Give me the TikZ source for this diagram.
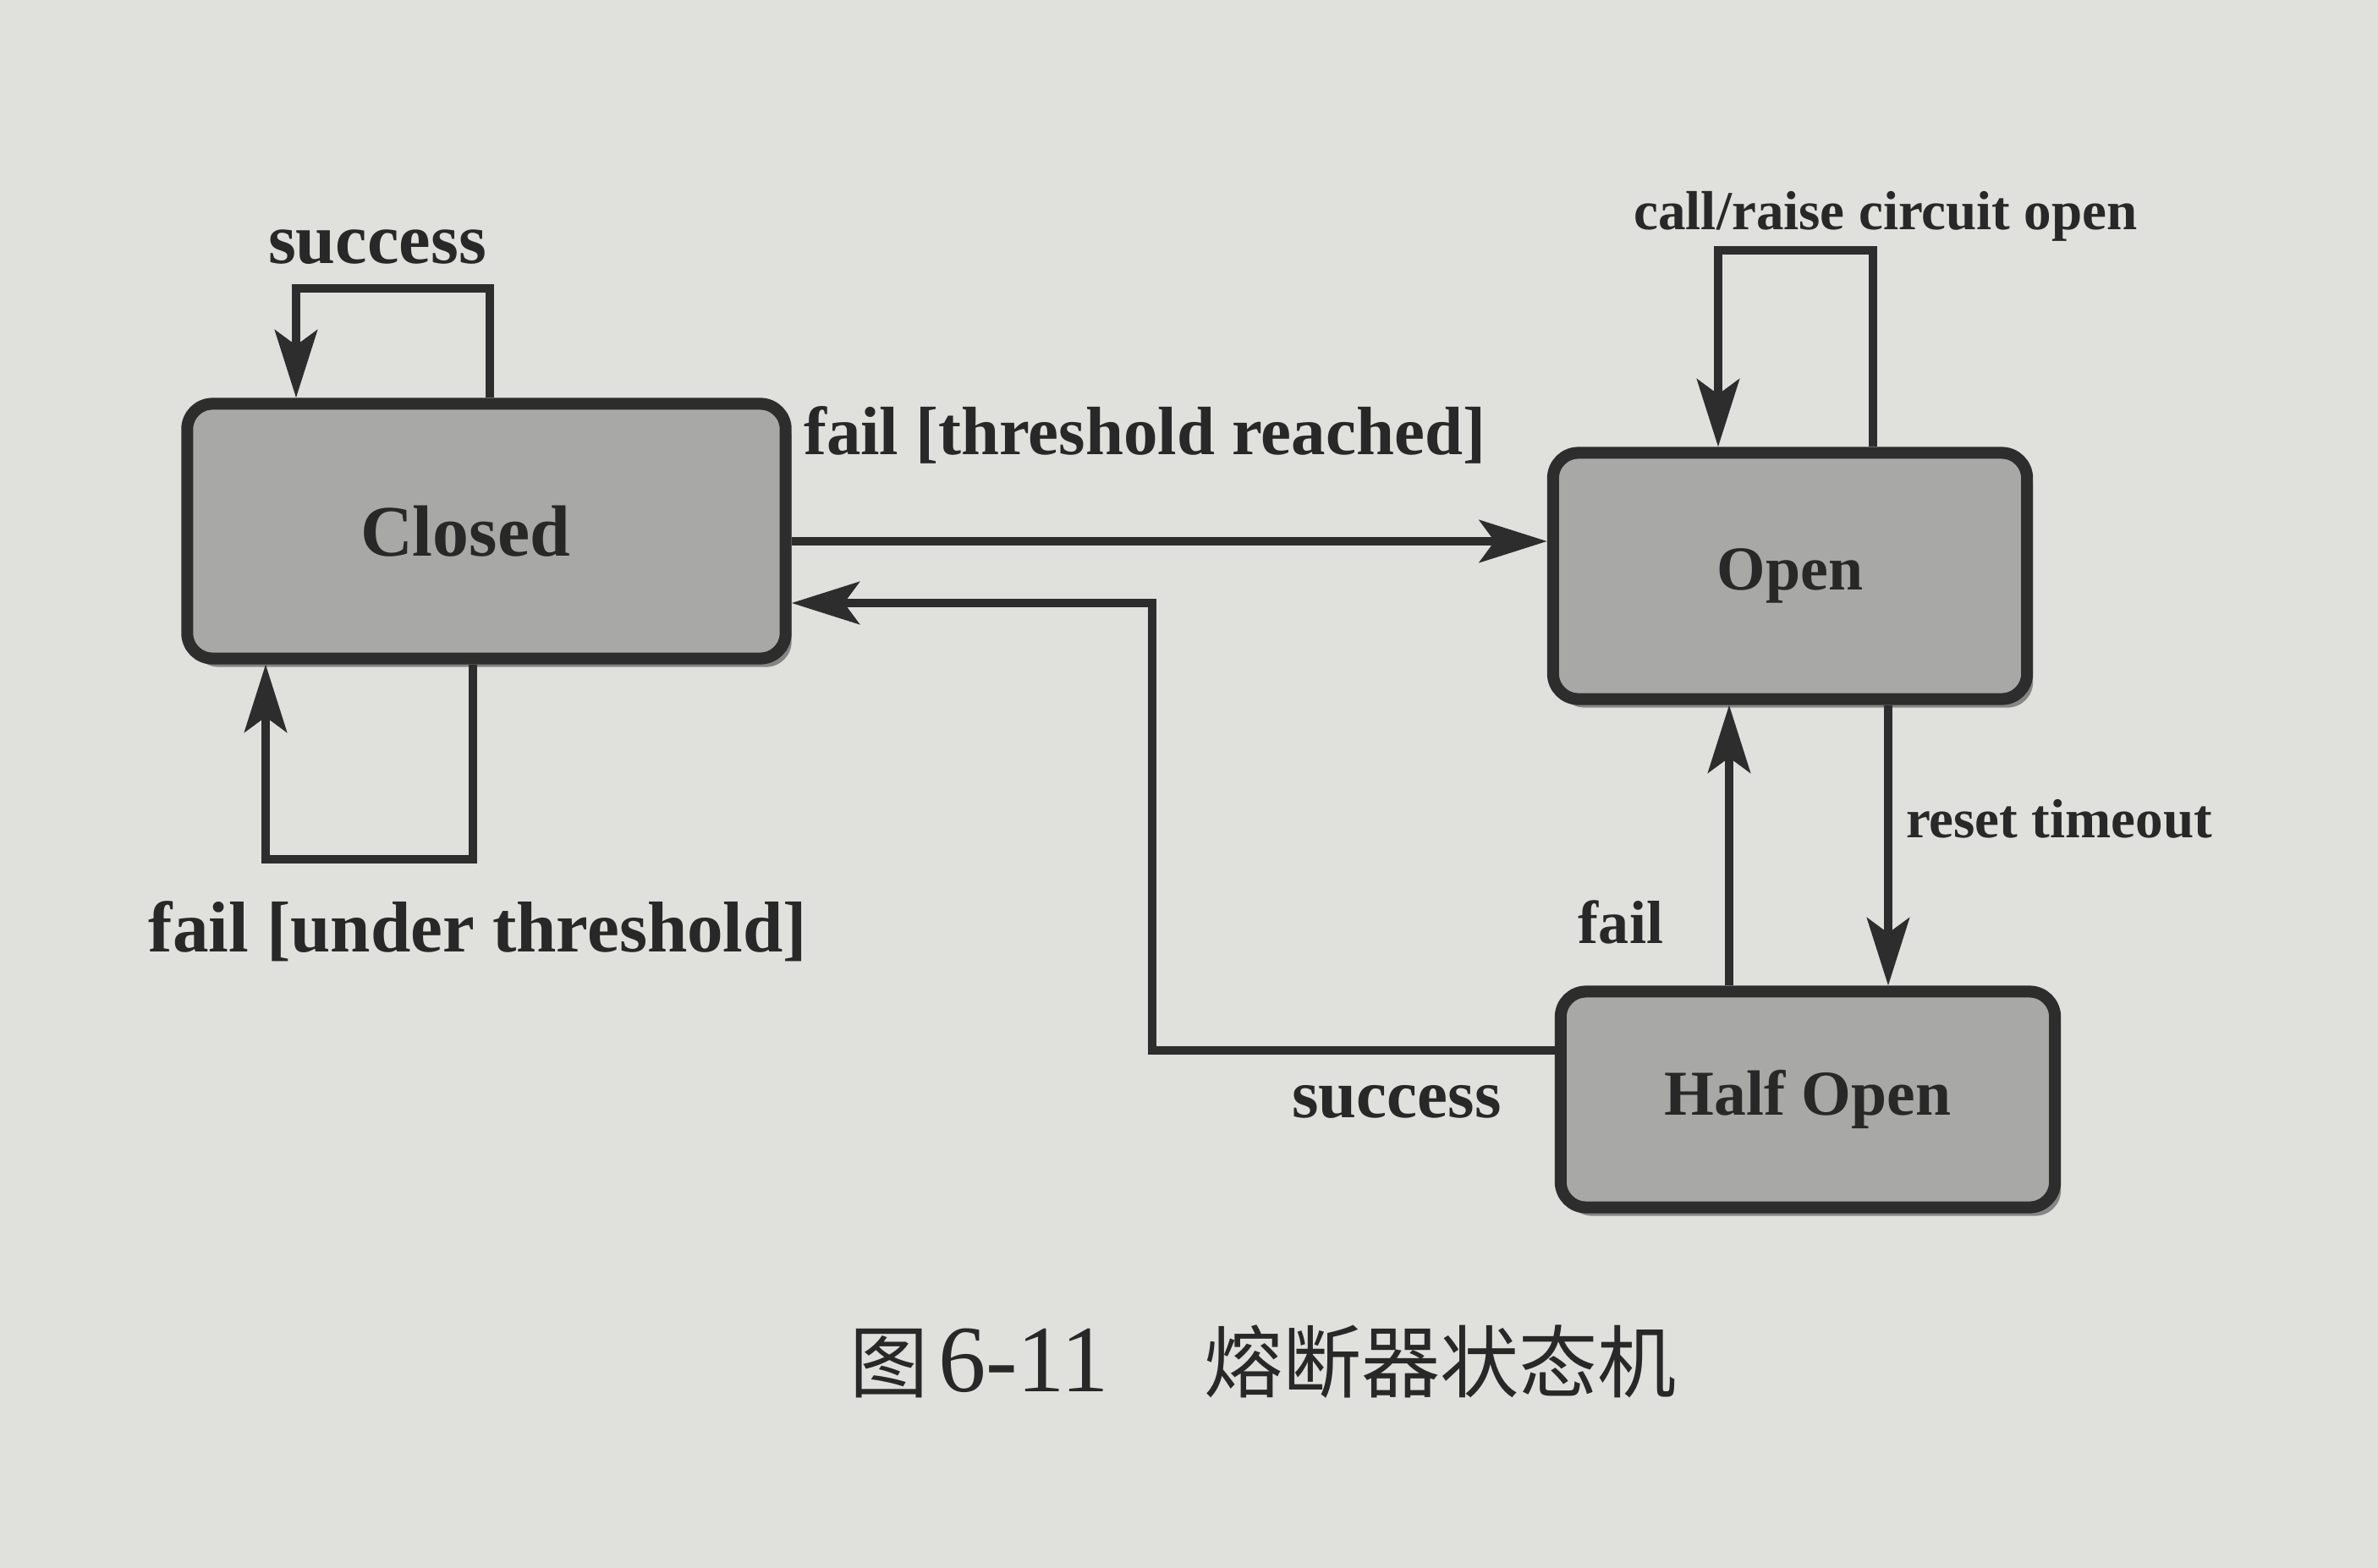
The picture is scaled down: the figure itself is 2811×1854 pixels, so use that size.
\documentclass[tikz,border=0pt]{standalone}
\usepackage{fontspec}
\setmainfont{Liberation Serif}
\newfontfamily\cjk{Noto Sans CJK SC}
\usetikzlibrary{arrows.meta,shadows}
\definecolor{paper}{RGB}{224,224,221}
\definecolor{boxfill}{RGB}{168,168,166}
\definecolor{linec}{RGB}{45,45,45}
\definecolor{textc}{RGB}{40,40,40}
\begin{document}
\begin{tikzpicture}[x=0.01cm,y=-0.01cm,
  state/.style={draw=linec, line width=4pt, fill=boxfill, rounded corners=0.3cm,
    inner sep=0pt, text=textc,
    drop shadow={shadow xshift=0.07cm, shadow yshift=-0.1cm, fill=black, opacity=0.4}},
  conn/.style={draw=linec, line width=2.8pt,
    -{Stealth[length=0.8cm,width=0.5cm,inset=0.18cm]}},
  lbl/.style={text=textc, inner sep=0pt}]
\fill[paper] (0,0) rectangle (2811,1854);
\useasboundingbox (0,0) rectangle (2811,1854);

% states
\node[state, minimum width=7.07cm, minimum height=3.01cm,
  font=\bfseries\fontsize{24.4}{28}\selectfont] (closed) at (575,628) {\hspace*{-0.5cm}Closed};
\node[state, minimum width=5.60cm, minimum height=2.91cm,
  font=\bfseries\fontsize{21}{25}\selectfont] (open) at (2116,681) {Open};
\node[state, minimum width=5.84cm, minimum height=2.55cm,
  font=\bfseries\fontsize{21.5}{25}\selectfont] (half) at (2137,1300) {Half Open};

% helper coordinates
\coordinate (s1) at (579,341);
\coordinate (s2) at (350,341);
\coordinate (f1) at (559,1016);
\coordinate (f2) at (314,1016);
\coordinate (ya) at (0,640);
\coordinate (sc) at (1362,1242);
\coordinate (sd) at (1362,713);
\coordinate (o1) at (2214,296);
\coordinate (o2) at (2031,296);
\coordinate (rt) at (2232,0);
\coordinate (fl) at (2044,0);

% connectors
\draw[conn] (closed.north -| s1) -- (s1) -- (s2) -- (closed.north -| s2);
\draw[conn] (closed.south -| f1) -- (f1) -- (f2) -- (closed.south -| f2);
\draw[conn] (closed.east |- ya) -- (open.west |- ya);
\draw[conn] (half.west |- sc) -- (sc) -- (sd) -- (closed.east |- sd);
\draw[conn] (open.north -| o1) -- (o1) -- (o2) -- (open.north -| o2);
\draw[conn] (open.south -| rt) -- (half.north -| rt);
\draw[conn] (half.north -| fl) -- (open.south -| fl);

% labels
\node[lbl, font=\bfseries\fontsize{24}{28}\selectfont] (lsucc1) at (446,292) {success};
\node[lbl, font=\bfseries\fontsize{24.2}{28}\selectfont] (lunder) at (565,1101) {fail [under threshold]};
\node[lbl, font=\bfseries\fontsize{23}{27}\selectfont] (lreach) at (1353,514) {fail [threshold reached]};
\node[lbl, font=\bfseries\fontsize{18.5}{22}\selectfont] (lcall) at (2229,256) {call/raise circuit open};
\node[lbl, font=\bfseries\fontsize{18.5}{22}\selectfont] (lreset) at (2434,968) {reset timeout};
\node[lbl, font=\bfseries\fontsize{20.5}{24}\selectfont] (lfail) at (1916,1090) {fail};
\node[lbl, font=\bfseries\fontsize{23}{27}\selectfont] (lsucc2) at (1651,1303) {success};

% caption
\node[lbl, anchor=base west, font=\fontsize{26.5}{32}\selectfont] (cap) at (1004,1645)
  {{\cjk 图}\hspace{0.12em}{\fontsize{32}{36}\selectfont 6-11}\hspace{1.2em}{\cjk 熔断器状态机}};
\end{tikzpicture}
\end{document}
